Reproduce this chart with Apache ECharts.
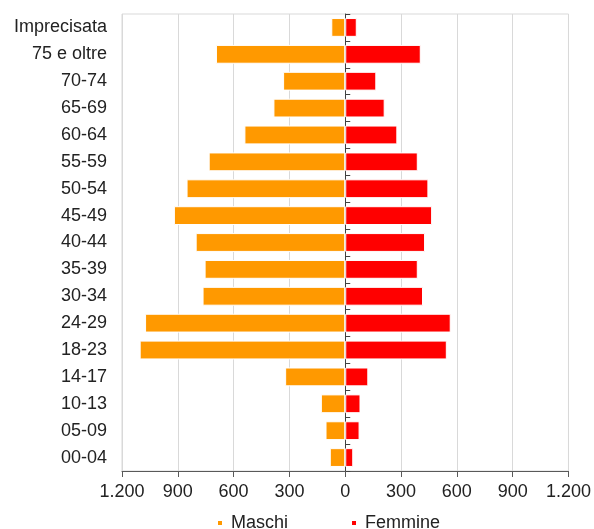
<!DOCTYPE html>
<html>
<head>
<meta charset="utf-8">
<script src="https://cdn.jsdelivr.net/npm/echarts@6/dist/echarts.min.js"></script>
<style>
html,body{margin:0;padding:0;background:#fff;}
#chart{width:594px;height:529px;}
</style>
</head>
<body>
<div id="chart"></div>
<script>
var categories = ['Imprecisata','75 e oltre','70-74','65-69','60-64','55-59','50-54','45-49','40-44','35-39','30-34','24-29','18-23','14-17','10-13','05-09','00-04'];
var maschi =  [75, 695, 334, 386, 542, 734, 853, 921, 804, 756, 767, 1076, 1105, 323, 131, 106, 83];
var femmine = [62, 406, 167, 212, 280, 390, 447, 467, 429, 390, 418, 567, 546, 124, 82, 77, 43];
var xTicks = {min: -1200, max: 1200, step: 300};

function fmt(v){
  v = Math.abs(v);
  return String(v).replace(/\B(?=(\d{3})+(?!\d))/g, '.');
}

var chart = echarts.init(document.getElementById('chart'), null, {renderer:'canvas'});
var font = 'Liberation Sans, Arial, sans-serif';
chart.setOption({
  animation: false,
  textStyle: {fontFamily: font},
  grid: {left: 122, right: 25, top: 14, bottom: 58, show: true, borderColor: '#d9d9d9', borderWidth: 1},
  legend: {
    left: 216, top: 514, padding: [0,0,0,0],
    icon: 'rect', itemWidth: 6, itemHeight: 6, itemGap: 62,
    textStyle: {fontSize: 18, color: '#222', fontFamily: font, padding: [0,0,0,3]},
    data: ['Maschi','Femmine']
  },
  xAxis: {
    type: 'value', min: xTicks.min, max: xTicks.max, interval: xTicks.step,
    axisLine: {show: true, onZero: false, lineStyle: {color: '#595959', width: 1}},
    axisTick: {show: true, length: 6, lineStyle: {color: '#595959'}},
    splitLine: {show: true, lineStyle: {color: '#d9d9d9', width: 1}},
    axisLabel: {fontSize: 18, color: '#222', margin: 12, formatter: fmt, fontFamily: font}
  },
  yAxis: [{
    type: 'category', inverse: true, data: categories, position: 'left',
    axisLine: {show: false, onZero: false}, axisTick: {show: false},
    axisLabel: {fontSize: 18, color: '#222', margin: 15, fontFamily: font}
  },{
    type: 'category', inverse: true, data: categories, position: 'left',
    axisLine: {show: true, onZero: true, lineStyle: {color: '#404040', width: 1}},
    axisTick: {show: true, inside: true, length: 5, lineStyle: {color: '#404040'}},
    axisLabel: {show: false}, splitLine: {show: false}
  }],
  series: [{
    name: 'Maschi', type: 'bar', yAxisIndex: 0,
    data: maschi.map(function(v){return -v;}),
    barCategoryGap: '30%', barGap: '-100%',
    itemStyle: {color: '#ff9900', borderColor: '#fff', borderWidth: 1}
  },{
    name: 'Femmine', type: 'bar', yAxisIndex: 0,
    data: femmine,
    barCategoryGap: '30%', barGap: '-100%',
    itemStyle: {color: '#ff0000', borderColor: '#fff', borderWidth: 1}
  }]
});
</script>
</body>
</html>
